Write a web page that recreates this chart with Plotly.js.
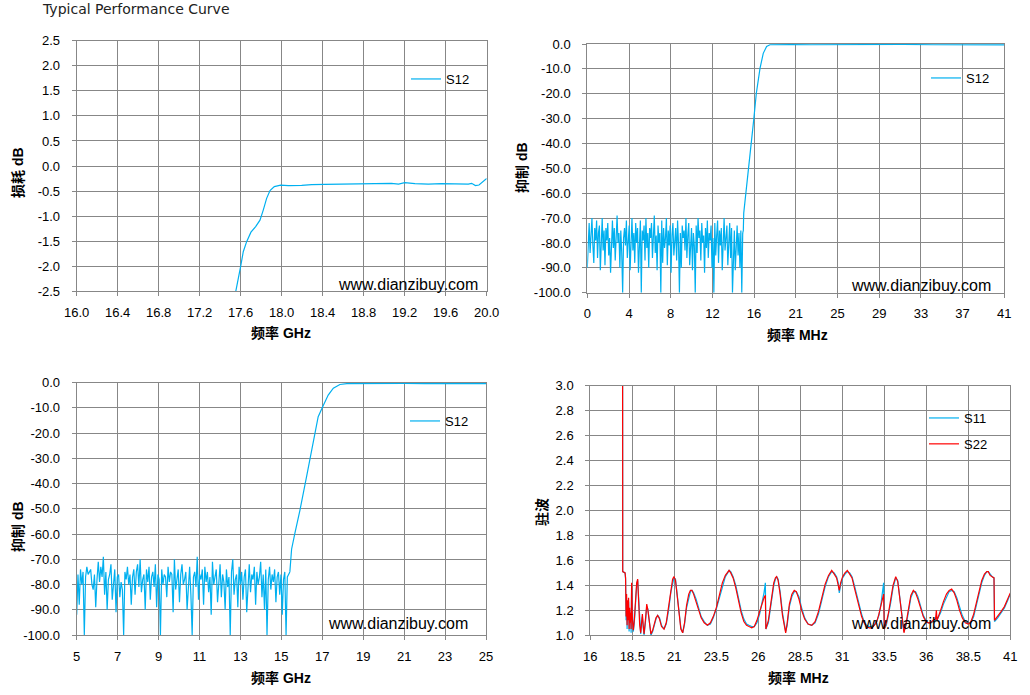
<!DOCTYPE html>
<html>
<head>
<meta charset="utf-8">
<script src="https://cdn.plot.ly/plotly-3.0.1.min.js"></script>
<style>html,body{margin:0;padding:0;background:#fff;}#chart{width:1030px;height:695px;}</style>
</head>
<body>
<div id="chart"></div>
<script>
// ---------------- DATA ----------------
// Top-left: insertion loss S12 (GHz, dB)
const tlFreq = [17.54, 17.551, 17.60, 17.625, 17.658, 17.70, 17.746, 17.788, 17.82, 17.853, 17.886, 17.928, 17.99, 18.065, 18.195, 18.292, 18.42, 18.617, 18.81, 18.97, 19.07, 19.14, 19.20, 19.30, 19.43, 19.56, 19.72, 19.82, 19.853, 19.89, 19.925, 19.967, 20.0];
const tlS12 = [-2.6, -2.51, -2.0, -1.71, -1.51, -1.32, -1.21, -1.08, -0.88, -0.645, -0.49, -0.41, -0.38, -0.39, -0.385, -0.37, -0.365, -0.36, -0.345, -0.35, -0.345, -0.36, -0.333, -0.35, -0.36, -0.35, -0.36, -0.36, -0.345, -0.39, -0.38, -0.31, -0.25];
const tlXTicks = [16.0, 16.4, 16.8, 17.2, 17.6, 18.0, 18.4, 18.8, 19.2, 19.6, 20.0];
const tlYTicks = [-2.5, -2.0, -1.5, -1.0, -0.5, 0.0, 0.5, 1.0, 1.5, 2.0, 2.5];

// Top-right: rejection S12 (MHz, dB) - stopband samples start 0 MHz, step 0.0915 MHz
const trNoiseStart = 0;
const trNoiseStep = 0.0915;
const trNoise = [
 -90, -78, -72, -84, -75, -70, -81, -88, -74, -79,
 -71, -86, -76, -73, -91, -77, -70, -83, -75, -89,
 -74, -79, -72, -85, -78, -92, -76, -71, -82, -74,
 -87, -73, -69, -80, -76, -90, -75, -84, -100, -78,
 -74, -81, -71, -86, -77, -73, -91, -79, -70, -83,
 -76, -88, -72, -80, -74, -92, -78, -71, -100, -75,
 -79, -73, -87, -70, -82, -76, -90, -74, -78, -72,
 -86, -75, -69, -84, -77, -91, -73, -80, -76, -100,
 -71, -88, -74, -82, -78, -70, -89, -75, -81, -73,
 -92, -77, -72, -85, -79, -74, -87, -71, -80, -100,
 -76, -90, -73, -78, -75, -83, -70, -86, -77, -72,
 -89, -79, -74, -91, -76, -81, -100, -73, -84, -70,
 -78, -75, -87, -72, -80, -77, -92, -74, -82, -71,
 -86, -76, -79, -73, -90, -78, -100, -72, -85, -77,
 -71, -88, -75, -81, -74, -91, -76, -70, -83, -79,
 -73, -89, -76, -72, -86, -74, -100, -80, -75, -91,
 -78, -73, -85, -76, -90, -75, -100, -76];
const trEdgeFreq = [15.2805, 15.34, 15.38, 15.6, 15.9, 16.16, 16.36, 16.62, 16.98, 17.3, 17.63, 17.96, 18.6, 20, 22, 25, 28, 31, 34, 37, 39, 41];
const trEdgeS12 = [-76, -75, -68, -60, -50, -40, -30.6, -19.8, -9.8, -3.75, -1.0, -0.3, -0.2, -0.25, -0.3, -0.2, -0.3, -0.2, -0.3, -0.25, -0.3, -0.35];
const trXTickVals = [0, 4.1, 8.2, 12.3, 16.4, 20.5, 24.6, 28.7, 32.8, 36.9, 41];
const trXTickText = ['0', '4', '8', '12', '16', '21', '25', '29', '33', '37', '41'];
const rejYTicks = [-100, -90, -80, -70, -60, -50, -40, -30, -20, -10, 0];

// Bottom-left: rejection S12 (GHz, dB) - stopband samples start 5 GHz, step 0.062 GHz
const blNoiseStart = 5;
const blNoiseStep = 0.062;
const blNoise = [
 -92, -76, -88, -74, -80, -75, -100, -77, -73, -76,
 -75, -74, -80, -82, -76, -89, -78, -71, -79, -73,
 -77, -69, -84, -75, -90, -78, -76, -72, -86, -80,
 -74, -91, -77, -76, -85, -79, -82, -100, -75, -78,
 -73, -80, -76, -88, -77, -74, -84, -75, -72, -81,
 -70, -83, -78, -76, -90, -74, -79, -73, -86, -77,
 -75, -81, -72, -89, -76, -78, -100, -74, -80, -76,
 -77, -85, -73, -79, -75, -76, -91, -70, -82, -78,
 -74, -87, -76, -72, -80, -78, -75, -90, -79, -73,
 -84, -100, -77, -75, -81, -69, -86, -76, -78, -74,
 -88, -73, -79, -75, -83, -77, -92, -71, -80, -76,
 -74, -87, -78, -72, -85, -76, -79, -90, -74, -81,
 -77, -100, -75, -70, -84, -78, -76, -89, -73, -80,
 -75, -86, -77, -74, -91, -79, -72, -83, -76, -78,
 -73, -88, -75, -80, -77, -71, -85, -76, -90, -74,
 -100, -78, -73, -82, -76, -79, -74, -87, -77, -75,
 -84, -76, -92, -78, -75, -100, -77, -76, -75];
const blEdgeFreq = [15.416, 15.45, 15.5, 15.66, 15.91, 16.23, 16.4, 16.56, 16.8, 17.02, 17.29, 17.54, 17.86, 18.2, 19, 20, 21, 22, 23, 24, 25];
const blEdgeS12 = [-75, -72, -66, -59.7, -50.5, -37.3, -30, -23, -13.5, -9.5, -4.9, -2.2, -0.7, -0.4, -0.3, -0.4, -0.3, -0.4, -0.3, -0.4, -0.4];
const blXTicks = [5, 7, 9, 11, 13, 15, 17, 19, 21, 23, 25];

// Bottom-right: VSWR S11 / S22 (MHz)
const brFreq = [17.92, 17.93, 18.07, 18.10, 18.13, 18.16, 18.19, 18.22, 18.25, 18.28,
 18.31, 18.34, 18.37, 18.40, 18.43, 18.46, 18.51, 18.56, 18.62, 18.69,
 18.76, 18.82, 18.88, 18.94, 19.00, 19.05, 19.10, 19.15, 19.20, 19.28,
 19.36, 19.43, 19.52, 19.61, 19.71, 19.81, 19.91, 20.01, 20.12, 20.24,
 20.39, 20.52, 20.66, 20.80, 20.90, 20.98, 21.07, 21.17, 21.28, 21.39,
 21.50, 21.61, 21.73, 21.86, 21.96, 22.05, 22.15, 22.30, 22.45, 22.60,
 22.78, 22.97, 23.15, 23.32, 23.50, 23.68, 23.86, 24.04, 24.18, 24.26,
 24.36, 24.50, 24.66, 24.82, 24.98, 25.14, 25.30, 25.45, 25.61, 25.76,
 25.92, 26.08, 26.22, 26.34, 26.42, 26.45, 26.60, 26.75, 26.92, 27.02,
 27.09, 27.18, 27.30, 27.44, 27.56, 27.63, 27.72, 27.85, 28.00, 28.14,
 28.26, 28.42, 28.58, 28.76, 28.96, 29.18, 29.38, 29.58, 29.78, 29.98,
 30.18, 30.37, 30.52, 30.66, 30.76, 30.82, 30.90, 31.02, 31.16, 31.30,
 31.44, 31.58, 31.72, 31.86, 32.00, 32.15, 32.30, 32.45, 32.60, 32.75,
 32.90, 33.05, 33.18, 33.31, 33.46, 33.50, 33.62, 33.75, 33.88, 34.02,
 34.18, 34.30, 34.42, 34.55, 34.67, 34.80, 34.94, 35.08, 35.23, 35.36,
 35.50, 35.66, 35.82, 35.98, 36.12, 36.26, 36.40, 36.55, 36.60, 36.64,
 36.70, 36.85, 37.02, 37.20, 37.36, 37.51, 37.66, 37.82, 37.98, 38.14,
 38.32, 38.50, 38.66, 38.82, 38.98, 39.14, 39.30, 39.46, 39.60, 39.69,
 39.80, 39.92, 40.03, 40.06, 40.25, 40.45, 40.65, 40.85, 41.00];
const brS22 = [3.6, 1.51, 1.50, 1.46, 1.15, 1.33, 1.08, 1.28, 1.12, 1.30,
 1.05, 1.22, 1.10, 1.18, 1.05, 1.42, 1.12, 1.04, 1.12, 1.28,
 1.42, 1.45, 1.25, 1.08, 1.02, 1.12, 1.17, 1.08, 1.01, 1.12,
 1.25, 1.20, 1.08, 1.01, 1.04, 1.10, 1.14, 1.16, 1.13, 1.07,
 1.05, 1.10, 1.22, 1.37, 1.45, 1.47, 1.44, 1.32, 1.16, 1.05,
 1.02, 1.10, 1.24, 1.33, 1.36, 1.36, 1.33, 1.27, 1.20, 1.14,
 1.10, 1.08, 1.10, 1.15, 1.22, 1.32, 1.42, 1.48, 1.51, 1.52,
 1.50, 1.46, 1.38, 1.28, 1.18, 1.11, 1.08, 1.07, 1.06, 1.07,
 1.12, 1.19, 1.26, 1.30, 1.32, 1.05, 1.12, 1.27, 1.42, 1.46,
 1.47, 1.44, 1.33, 1.16, 1.05, 1.02, 1.10, 1.25, 1.33, 1.36,
 1.35, 1.29, 1.20, 1.13, 1.09, 1.08, 1.11, 1.19, 1.30, 1.41,
 1.48, 1.52, 1.49, 1.46, 1.40, 1.36, 1.42, 1.47, 1.50, 1.52,
 1.49, 1.46, 1.38, 1.30, 1.22, 1.15, 1.10, 1.07, 1.06, 1.06,
 1.08, 1.11, 1.17, 1.25, 1.33, 1.05, 1.10, 1.18, 1.28, 1.40,
 1.47, 1.43, 1.30, 1.14, 1.02, 1.10, 1.23, 1.32, 1.36, 1.34,
 1.29, 1.21, 1.15, 1.11, 1.10, 1.10, 1.12, 1.13, 1.20, 1.12,
 1.14, 1.20, 1.27, 1.33, 1.36, 1.37, 1.34, 1.28, 1.20, 1.14,
 1.10, 1.09, 1.11, 1.17, 1.26, 1.36, 1.44, 1.49, 1.51, 1.51,
 1.48, 1.47, 1.46, 1.12, 1.15, 1.19, 1.23, 1.29, 1.34];
const brS11 = [3.6, 1.51, 1.50, 1.45, 1.12, 1.30, 1.05, 1.26, 1.14, 1.27,
 1.03, 1.20, 1.13, 1.15, 1.02, 1.38, 1.10, 1.03, 1.10, 1.26,
 1.40, 1.44, 1.27, 1.10, 1.01, 1.10, 1.15, 1.06, 1.00, 1.10,
 1.23, 1.21, 1.09, 1.00, 1.03, 1.09, 1.13, 1.16, 1.14, 1.08,
 1.05, 1.09, 1.20, 1.35, 1.43, 1.46, 1.45, 1.34, 1.18, 1.06,
 1.02, 1.09, 1.22, 1.31, 1.35, 1.36, 1.34, 1.29, 1.22, 1.15,
 1.11, 1.08, 1.09, 1.14, 1.21, 1.30, 1.40, 1.47, 1.50, 1.52,
 1.51, 1.47, 1.40, 1.30, 1.20, 1.13, 1.09, 1.08, 1.07, 1.07,
 1.10, 1.17, 1.25, 1.34, 1.42, 1.05, 1.10, 1.25, 1.40, 1.45,
 1.47, 1.45, 1.35, 1.18, 1.06, 1.03, 1.08, 1.23, 1.31, 1.35,
 1.35, 1.31, 1.22, 1.14, 1.09, 1.08, 1.10, 1.17, 1.28, 1.39,
 1.47, 1.51, 1.50, 1.47, 1.42, 1.34, 1.40, 1.46, 1.49, 1.51,
 1.50, 1.47, 1.40, 1.32, 1.24, 1.17, 1.11, 1.08, 1.07, 1.07,
 1.08, 1.11, 1.16, 1.26, 1.42, 1.05, 1.08, 1.16, 1.26, 1.38,
 1.46, 1.44, 1.32, 1.16, 1.03, 1.08, 1.21, 1.30, 1.35, 1.35,
 1.31, 1.23, 1.16, 1.12, 1.10, 1.10, 1.11, 1.12, 1.14, 1.13,
 1.14, 1.18, 1.25, 1.31, 1.35, 1.36, 1.35, 1.30, 1.22, 1.16,
 1.11, 1.09, 1.10, 1.15, 1.24, 1.34, 1.42, 1.48, 1.51, 1.51,
 1.49, 1.47, 1.46, 1.11, 1.14, 1.18, 1.22, 1.28, 1.33];
const brXTickVals = [16, 18.5, 21, 23.5, 26, 28.5, 31, 33.5, 36, 38.5, 41];
const brXTickText = ['16', '18.5', '21', '23.5', '26', '28.5', '31', '33.5', '36', '38.5', '41'];
const brYTicks = [1.0, 1.2, 1.4, 1.6, 1.8, 2.0, 2.2, 2.4, 2.6, 2.8, 3.0];

const chartTitle = 'Typical Performance Curve';
const watermark = 'www.dianzibuy.com';

// ---------------- LAYOUT HELPERS ----------------
const W = 1030, H = 695;
const fx = p => p / W;
const fy = p => 1 - p / H;
const BLUE = '#00b0f0', RED = '#ff0000', GRID = '#878787';
const LATIN = 'Liberation Sans, Arial, sans-serif';
const CJK = 'Liberation Sans, Noto Sans CJK SC, sans-serif';
const tickFont = {family: LATIN, size: 13, color: '#000'};
const fmt1 = v => v.toFixed(1);

function axis(domain, range, tickvals, ticktext, anchor, isY) {
  return {
    domain: domain, range: range, anchor: anchor,
    tickmode: 'array', tickvals: tickvals, ticktext: ticktext,
    showgrid: true, gridcolor: GRID, gridwidth: 1,
    showline: true, linecolor: GRID, linewidth: 1, mirror: true,
    ticks: 'outside', ticklen: 4, tickcolor: GRID, tickwidth: 1,
    zeroline: false, tickfont: tickFont, fixedrange: true,
    ticklabelstandoff: isY ? 9 : 5
  };
}

const line = (c) => ({color: c, width: 1.2});

const traces = [
  {x: tlFreq, y: tlS12, type: 'scatter', mode: 'lines', name: 'S12', line: line(BLUE), xaxis: 'x', yaxis: 'y', legend: 'legend'},
  {x0: trNoiseStart, dx: trNoiseStep, y: trNoise, type: 'scatter', mode: 'lines', name: 'S12', line: line(BLUE), xaxis: 'x2', yaxis: 'y2', legend: 'legend2'},
  {x: trEdgeFreq, y: trEdgeS12, type: 'scatter', mode: 'lines', name: 'S12', line: line(BLUE), xaxis: 'x2', yaxis: 'y2', showlegend: false},
  {x0: blNoiseStart, dx: blNoiseStep, y: blNoise, type: 'scatter', mode: 'lines', name: 'S12', line: line(BLUE), xaxis: 'x3', yaxis: 'y3', legend: 'legend3'},
  {x: blEdgeFreq, y: blEdgeS12, type: 'scatter', mode: 'lines', name: 'S12', line: line(BLUE), xaxis: 'x3', yaxis: 'y3', showlegend: false},
  {x: brFreq, y: brS11, type: 'scatter', mode: 'lines', name: 'S11', line: line(BLUE), xaxis: 'x4', yaxis: 'y4', legend: 'legend4', legendgroup: 'a'},
  {x: brFreq, y: brS22, type: 'scatter', mode: 'lines', name: 'S22', line: line(RED), xaxis: 'x4', yaxis: 'y4', legend: 'legend4', legendgroup: 'b'}
];

const legendBase = (x, y) => ({
  x: fx(x), y: fy(y), xanchor: 'left', yanchor: 'middle',
  bgcolor: 'rgba(0,0,0,0)', borderwidth: 0,
  font: {family: LATIN, size: 13, color: '#000'},
  traceorder: 'grouped', tracegroupgap: 6
});

const whiteBox = (x0, y0, x1, y1) => ({
  type: 'rect', xref: 'paper', yref: 'paper',
  x0: fx(x0), x1: fx(x1), y0: fy(y1), y1: fy(y0),
  fillcolor: '#fff', line: {width: 0}, layer: 'between'
});

const ann = (text, x, y, opts) => Object.assign({
  text: text, xref: 'paper', yref: 'paper', x: fx(x), y: fy(y),
  xanchor: 'center', yanchor: 'middle', showarrow: false
}, opts || {});

const axTitleFont = {family: CJK, size: 14, color: '#000', weight: 'bold'};
const wmFont = {family: LATIN, size: 16, color: '#000'};

const layout = {
  width: W, height: H,
  margin: {l: 0, r: 0, t: 0, b: 0},
  paper_bgcolor: '#fff', plot_bgcolor: '#fff',
  hovermode: false,
  xaxis: axis([fx(76.7), fx(486.7)], [16, 20], tlXTicks, tlXTicks.map(fmt1), 'y', false),
  yaxis: axis([fy(291.3), fy(40.7)], [-2.5, 2.5], tlYTicks, tlYTicks.map(fmt1), 'x', true),
  xaxis2: axis([fx(587.3), fx(1004.3)], [0, 41], trXTickVals, trXTickText, 'y2', false),
  yaxis2: axis([fy(292.7), fy(44)], [-100, 0], rejYTicks, rejYTicks.map(fmt1), 'x2', true),
  xaxis3: axis([fx(76.7), fx(486)], [5, 25], blXTicks, blXTicks.map(String), 'y3', false),
  yaxis3: axis([fy(635), fy(382.7)], [-100, 0], rejYTicks, rejYTicks.map(fmt1), 'x3', true),
  xaxis4: axis([fx(590.3), fx(1010.3)], [16, 41], brXTickVals, brXTickText, 'y4', false),
  yaxis4: axis([fy(635.3), fy(385.7)], [1, 3], brYTicks, brYTicks.map(fmt1), 'x4', true),
  legend: legendBase(406, 79),
  legend2: legendBase(926, 78),
  legend3: legendBase(405, 421),
  legend4: legendBase(924, 431),
  shapes: [
    whiteBox(406, 50, 473, 107),
    whiteBox(924, 48, 993, 105),
    whiteBox(405, 392, 473, 449),
    whiteBox(925, 404, 993, 460)
  ],
  annotations: [
    ann(chartTitle, 40, 9, {xanchor: 'left', font: {family: 'DejaVu Sans, sans-serif', size: 14, color: '#222'}}),
    ann(watermark, 408, 284, {font: wmFont}),
    ann(watermark, 921, 285, {font: wmFont}),
    ann(watermark, 398, 623, {font: wmFont}),
    ann(watermark, 921, 623, {font: wmFont}),
    ann('频率 GHz', 281, 333, {font: axTitleFont}),
    ann('损耗 dB', 18, 173, {font: axTitleFont, textangle: -90}),
    ann('频率 MHz', 797, 335, {font: axTitleFont}),
    ann('抑制 dB', 522, 168, {font: axTitleFont, textangle: -90}),
    ann('频率 GHz', 281, 678, {font: axTitleFont}),
    ann('抑制 dB', 18, 527, {font: axTitleFont, textangle: -90}),
    ann('频率 MHz', 798, 678, {font: axTitleFont}),
    ann('驻波', 542, 512, {font: axTitleFont, textangle: -90})
  ]
};

Plotly.newPlot('chart', traces, layout, {displayModeBar: false, staticPlot: true});
</script>
</body>
</html>
